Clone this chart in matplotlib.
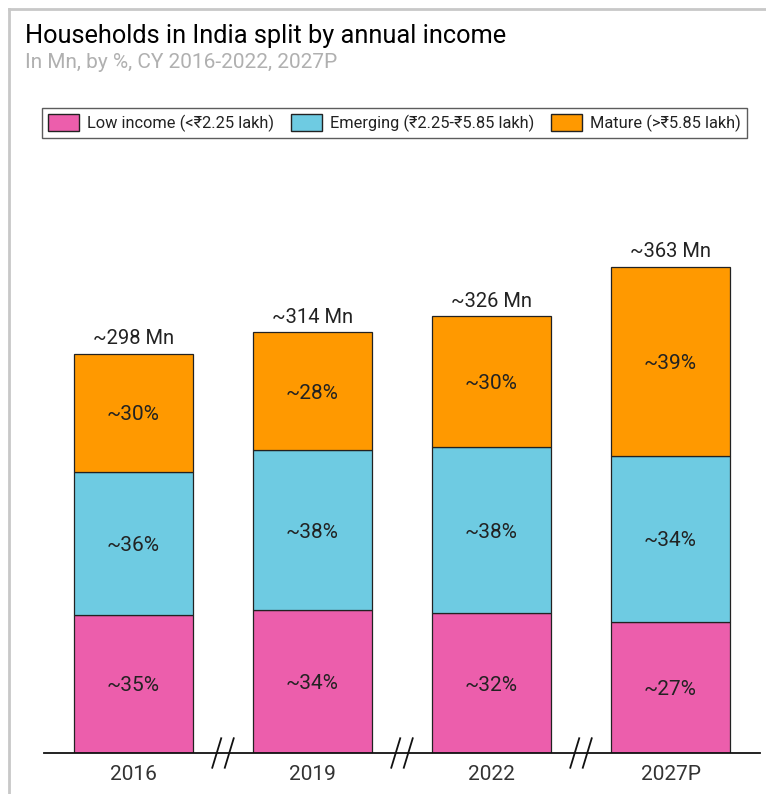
import matplotlib.pyplot as plt
from matplotlib.patches import Patch
from matplotlib.lines import Line2D
import numpy as np

plt.rcParams['font.family'] = ['Roboto', 'DejaVu Sans']

years = ["2016", "2019", "2022", "2027P"]
totals = [298, 314, 326, 363]
low_pct = [35, 34, 32, 27]
emerging_pct = [36, 38, 38, 34]
mature_pct = [30, 28, 30, 39]

series_names = ["Low income (<₹2.25 lakh)", "Emerging (₹2.25-₹5.85 lakh)", "Mature (>₹5.85 lakh)"]
PINK = "#EC5EAC"
CYAN = "#6ECBE2"
ORANGE = "#FF9900"
colors = [PINK, CYAN, ORANGE]

fig = plt.figure(figsize=(7.66, 7.94), dpi=100)
W, H = 766, 794

# axes placed in pixel terms
ax_left, ax_right = 44, 760
base_y = 753
ymax = 440
px_per_mn = 1.34
ax_h = ymax * px_per_mn
ax = fig.add_axes([ax_left / W, (H - base_y) / H, (ax_right - ax_left) / W, ax_h / H])
ax.set_xlim(-0.5, 3.5)
ax.set_ylim(0, ymax)

x = np.arange(len(years))
pcts = np.array([low_pct, emerging_pct, mature_pct], dtype=float)
shares = pcts / pcts.sum(axis=0)
heights = shares * np.array(totals)

bottom = np.zeros(len(years))
for i in range(3):
    ax.bar(x, heights[i], bottom=bottom, width=0.665, color=colors[i],
           edgecolor="#222222", linewidth=0.9, zorder=2)
    for j in range(len(years)):
        ax.text(x[j], bottom[j] + heights[i][j] / 2 - 1.5, f"~{int(pcts[i][j])}%",
                ha="center", va="center", fontsize=15, color="#222222")
    bottom += heights[i]

for j in range(len(years)):
    ax.text(x[j], totals[j] + 4, f"~{totals[j]} Mn", ha="center", va="bottom",
            fontsize=14.5, color="#222222")

for s in ["top", "right", "left"]:
    ax.spines[s].set_visible(False)
ax.spines["bottom"].set_color("#111111")
ax.spines["bottom"].set_linewidth(1.3)
ax.set_yticks([])
ax.set_xticks(x)
ax.set_xticklabels(years, fontsize=15, color="#333333")
ax.tick_params(axis="x", length=0, pad=9)

# axis break marks between bars
for k in range(len(years) - 1):
    xm = (x[k] + x[k + 1]) / 2
    for dx in (-0.035, 0.035):
        ax.add_line(Line2D([xm + dx - 0.025, xm + dx + 0.025], [-11, 11],
                           color="#111111", lw=1.3, clip_on=False, zorder=3))

# title and subtitle
fig.text(25 / W, 1 - 36 / H, "Households in India split by annual income",
         fontsize=18.3, color="#000000", va="center", ha="left")
fig.text(25 / W, 1 - 63 / H, "In Mn, by %, CY 2016-2022, 2027P",
         fontsize=15, color="#b0b0b0", va="center", ha="left")

handles = [Patch(facecolor=c, edgecolor="#222222", label=n) for c, n in zip(colors, series_names)]
leg = fig.legend(handles=handles, loc="center", ncol=3,
                 bbox_to_anchor=(((37 + 752) / 2) / W, 1 - 123 / H),
                 prop={"size": 11.8}, frameon=True, fancybox=False,
                 edgecolor="#333333",
                 handlelength=1.9, handleheight=1.2, columnspacing=1.0, handletextpad=0.5,
                 borderpad=0.4)
leg.get_frame().set_linewidth(1.0)
for t in leg.get_texts():
    t.set_color("#222222")

# light frame at top and left
fig.add_artist(Line2D([9 / W, 9 / W], [0, 1 - 9 / H], color="#c8c8c8", lw=2))
fig.add_artist(Line2D([9 / W, 1], [1 - 9 / H, 1 - 9 / H], color="#c8c8c8", lw=2))

fig.savefig("out.png", dpi=100, facecolor="white")
